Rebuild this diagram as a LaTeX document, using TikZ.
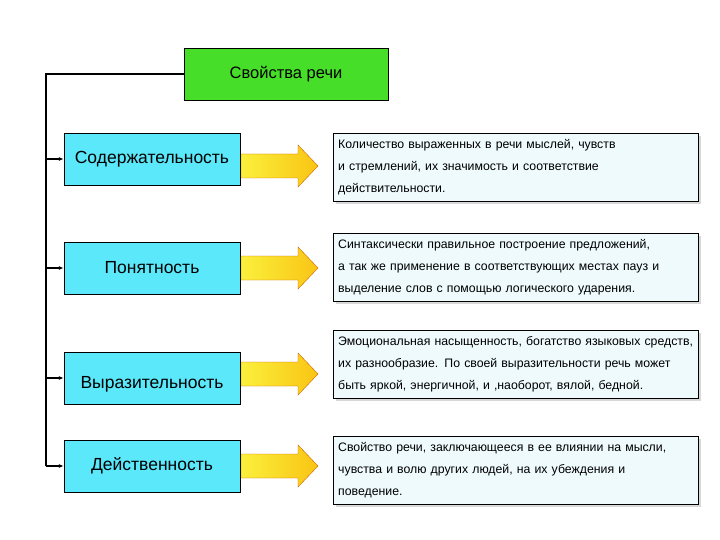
\documentclass[tikz,border=0pt]{standalone}
\usepackage{fontspec}
\setmainfont{Liberation Sans}
\usetikzlibrary{arrows.meta,shadows}
\definecolor{cy}{RGB}{90,232,250}
\definecolor{gr}{RGB}{70,222,40}
\definecolor{pale}{RGB}{238,250,252}
\definecolor{ya}{RGB}{250,196,20}
\definecolor{yb}{RGB}{250,240,60}
\begin{document}
\begin{tikzpicture}[x=1pt,y=-1pt,
 cbox/.style={draw=black,fill=cy,minimum width=176pt,minimum height=52pt,font=\fontsize{17.5}{19}\selectfont,inner sep=0pt},
 tbox/.style={draw=black,fill=pale,minimum width=365pt,anchor=north west,align=left,font=\fontsize{12.3}{22}\selectfont,inner xsep=5pt,inner ysep=6pt,text width=355pt,drop shadow={shadow xshift=3pt,shadow yshift=-3pt,fill=gray!60}},
 barrow/.style={draw=orange!80!black,top color=yb,bottom color=ya,shading angle=0},
 conn/.style={line width=1.2pt,-{Latex[length=5pt,width=4pt]}}]
\useasboundingbox (0,0) rectangle (720,540);
\node[draw=black,fill=gr,minimum width=204pt,minimum height=52pt,font=\fontsize{16.5}{18}\selectfont] (top) at (286,74) {Свойства речи};
\node[cbox] (c1) at (152,159) {Содержательность};
\node[cbox] (c2) at (152,268) {Понятность};
\node[cbox,minimum height=52pt,text depth=0pt] (c3) at (152,378) {\raisebox{-8pt}{Выразительность}};
\node[cbox] (c4) at (152,466) {Действенность};
\foreach \y in {166,268,374,466}{
  \draw[barrow,shading angle=90] (241,\y-12) -- (298,\y-12) -- (298,\y-21) -- (318,\y) -- (298,\y+21) -- (298,\y+12) -- (241,\y+12) -- cycle;
}
\node[tbox] (t1) at (333,133) {Количество выраженных в речи мыслей, чувств и стремлений, их значимость и соответствие действительности.};
\node[tbox] (t2) at (333,233) {Синтаксически правильное построение предложений, а так же применение в соответствующих местах пауз и выделение слов с помощью логического ударения.};
\node[tbox] (t3) at (333,330) {Эмоциональная насыщенность, богатство языковых средств, их разнообразие. По своей выразительности речь может быть яркой, энергичной, и ,наоборот, вялой, бедной.};
\node[tbox] (t4) at (333,436) {Свойство речи, заключающееся в ее влиянии на мысли, чувства и волю других людей, на их убеждения и поведение.};
\coordinate (v0) at (46,74);
\coordinate (v1) at (46,466);
\draw[line width=1.5pt] (top.west) -- (v0) -- (v1);
\draw[conn] (46,159) -- (c1.west);
\draw[conn] (46,268) -- (c2.west);
\draw[conn] (46,378) -- (c3.west);
\draw[conn] (v1) -- (c4.west);
\end{tikzpicture}
\end{document}
